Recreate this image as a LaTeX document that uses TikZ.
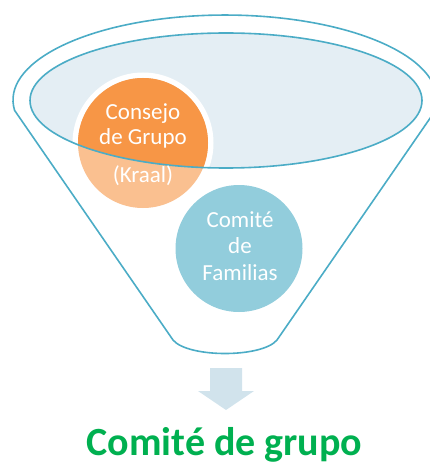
\documentclass[tikz,border=0pt]{standalone}
\usepackage{fontspec}
\setmainfont{Carlito}
\definecolor{tealline}{HTML}{4BACC6}
\definecolor{innerfill}{HTML}{E4EEF4}
\definecolor{orangedark}{HTML}{F79646}
\definecolor{orangelight}{HTML}{FAC090}
\definecolor{bluecirc}{HTML}{92CDDC}
\definecolor{arrowfill}{HTML}{D1E3EC}
\definecolor{titlegreen}{HTML}{00B050}
\tikzset{
  funnelline/.style={draw=tealline, line width=1.6pt},
  circtext/.style={text=white, font=\fontsize{23}{25}\selectfont, anchor=base, inner sep=0pt},
  bigcirc/.style={circle, inner sep=0pt, draw=none},
}
\begin{document}
\begin{tikzpicture}[x=1pt, y=-1pt]
\useasboundingbox (0,0) rectangle (430,465);
% outer funnel
\draw[funnelline, line join=round] (14.6,110.4) arc[start angle=173, end angle=367, x radius=212, y radius=85]
  -- (277,340) .. controls (262,358) and (188,358) .. (173,340) -- cycle;
% inner ellipse fill
\fill[innerfill] (226,100.5) ellipse [x radius=196, y radius=67.5];
% orange circle
\node[bigcirc, fill=white, minimum size=141pt] (ring) at (143,143) {};
\node[bigcirc, fill=orangelight, minimum size=130pt] (consejo) at (143,143) {};
\begin{scope}
  \clip (226,100.5) ellipse [x radius=196, y radius=67.5];
  \fill[orangedark] (consejo.center) circle [radius=65];
\end{scope}
% inner ellipse outline
\draw[funnelline] (226,100.5) ellipse [x radius=196, y radius=67.5];
\node[circtext] (t1) at (143,120) {Consejo};
\node[circtext] (t2) at (143,145) {de Grupo};
\node[circtext] (t3) at (143,182) {(Kraal)};
% blue circle
\node[bigcirc, fill=bluecirc, minimum size=127pt] (comite) at (239,248.5) {};
\node[circtext] (b1) at (240,227) {Comité};
\node[circtext] (b2) at (240,253.5) {de};
\node[circtext] (b3) at (240,280) {Familias};
% arrow
\fill[arrowfill] (210,368) -- (242,368) -- (242,391) -- (254,391) -- (226,410) -- (198,391) -- (210,391) -- cycle;
% title
\node[anchor=base, inner sep=0pt, text=titlegreen, font=\fontsize{40}{44}\selectfont\bfseries] (title) at (224.5,455) {Comité de grupo};
\end{tikzpicture}
\end{document}
